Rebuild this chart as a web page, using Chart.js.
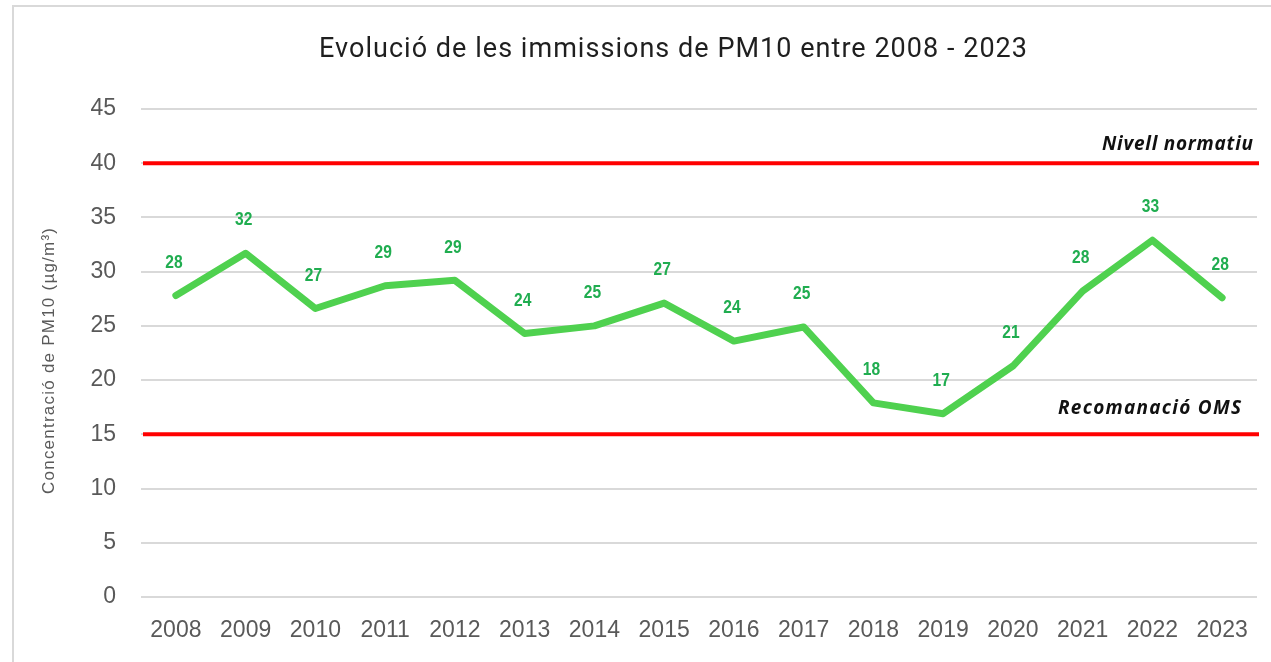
<!DOCTYPE html>
<html><head><meta charset="utf-8">
<script src="https://cdn.jsdelivr.net/npm/chart.js@4"></script>
<style>html,body{margin:0;padding:0;background:#fff;}#wrap{width:1271px;height:662px;position:relative;}</style>
</head><body><div id="wrap"><canvas id="c" width="1271" height="662"></canvas></div>
<script>
const years = ['2008','2009','2010','2011','2012','2013','2014','2015','2016','2017','2018','2019','2020','2021','2022','2023'];
const pm10 = [27.8,31.7,26.6,28.7,29.2,24.3,25.0,27.1,23.6,24.9,17.9,16.9,21.3,28.2,32.9,27.6];
const refValues = [40, 15];
const refLabels = ['Nivell normatiu', 'Recomanació OMS'];
const yTicks = [0,5,10,15,20,25,30,35,40,45];
const titleText = 'Evolució de les immissions de PM10 entre 2008 - 2023';
const yTitleText = 'Concentració de PM10 (µg/m³)';

function spacedText(c, text, x, y, targetW){
  c.letterSpacing = '0px';
  const w = c.measureText(text).width;
  const sp = (targetW - w) / (text.length - 1);
  c.letterSpacing = sp + 'px';
  c.textAlign = 'left';
  c.fillText(text, x - targetW/2, y);
  c.letterSpacing = '0px';
}

const frame = {
  id:'frame',
  beforeDraw(chart){
    const c = chart.ctx; c.save();
    c.strokeStyle = '#d9d9d9'; c.lineWidth = 2;
    c.strokeRect(13, 6, 1300, 700);
    c.fillStyle = '#1f1f1f'; c.font = '27px "Roboto"'; c.textBaseline = 'middle';
    spacedText(c, titleText, 673, 50, 708);
    c.translate(49, 361); c.rotate(-Math.PI/2);
    c.fillStyle = '#595959'; c.font = '17px "Liberation Sans"';
    spacedText(c, yTitleText, 0, 0, 266);
    c.restore();
  }
};
const refLines = {
  id:'refLines',
  beforeDatasetsDraw(chart){
    const c = chart.ctx, a = chart.chartArea, y = chart.scales.y;
    const offs = [19, 26], rights = [1253, 1241], widths = [151, 183];
    c.save();
    refValues.forEach((v,i)=>{
      const py = y.getPixelForValue(v);
      c.strokeStyle = '#ff0000'; c.lineWidth = 4;
      c.beginPath(); c.moveTo(a.left+2, py); c.lineTo(a.right+2, py); c.stroke();
      c.fillStyle = '#111'; c.font = 'italic bold 19px "Open Sans"';
      c.textBaseline = 'middle';
      spacedText(c, refLabels[i], rights[i] - widths[i]/2, py - offs[i], widths[i]);
    });
    c.restore();
  }
};
const dataLabels = {
  id:'dataLabels',
  afterDatasetsDraw(chart){
    const c = chart.ctx, meta = chart.getDatasetMeta(0);
    c.fillStyle = '#20ad50'; c.font = 'bold 19px "Liberation Sans"';
    c.textAlign = 'center'; c.textBaseline = 'middle';
    meta.data.forEach((p,i)=>{
      c.save();
      c.translate(p.x - 2, p.y - 33); c.scale(0.82, 1);
      c.fillText(String(Math.round(pm10[i])), 0, 0);
      c.restore();
    });
  }
};

new Chart(document.getElementById('c'), {
  type:'line',
  data:{ labels: years, datasets:[{ data: pm10, borderColor:'#4fd14f', borderWidth:7, pointRadius:0, tension:0, borderJoinStyle:'round', borderCapStyle:'round' }]},
  options:{
    responsive:false, animation:false, devicePixelRatio:1,
    layout:{ padding:{ top:0, right:14, bottom:0, left:0 } },
    plugins:{
      legend:{display:false}, tooltip:{enabled:false},
      title:{ display:true, text:' ', color:'rgba(0,0,0,0)',
        font:{ family:'Roboto', size:25, weight:'normal' }, padding:{ top:36, bottom:43 } }
    },
    scales:{
      x:{ offset:true, afterFit(s){ s.height = 65; }, grid:{ display:false, drawTicks:false }, border:{ display:false },
        ticks:{ color:'#595959', font:{ family:'"Liberation Sans"', size:23 }, padding:20, maxRotation:0, autoSkip:false } },
      y:{ min:0, max:45, afterFit(s){ s.width = 141; },
        afterBuildTicks(s){ s.ticks = yTicks.map(v=>({value:v})); },
        grid:{ color:'#d9d9d9', lineWidth:2, drawTicks:false }, border:{ display:false },
        ticks:{ color:'#595959', font:{ family:'"Liberation Sans"', size:23 }, padding:25 } }
    }
  },
  plugins:[frame, refLines, dataLabels]
});
</script></body></html>
